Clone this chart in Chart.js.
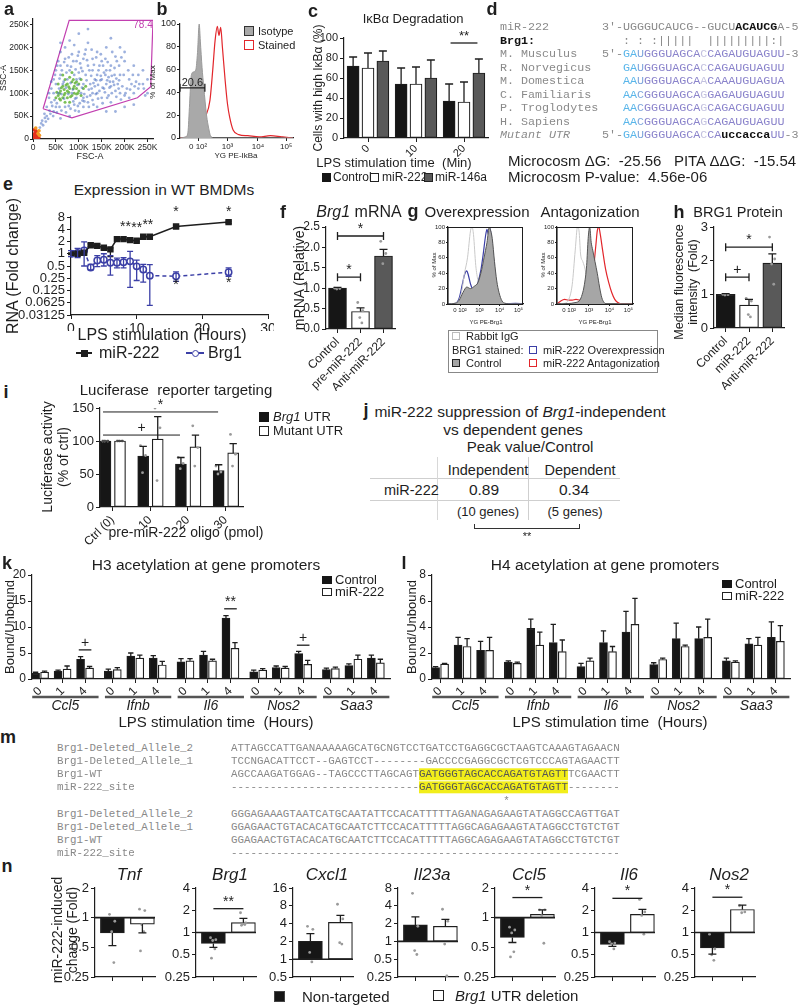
<!DOCTYPE html>
<html>
<head>
<meta charset="utf-8">
<title>Figure</title>
<script src="https://cdn.jsdelivr.net/npm/chart.js@4.4.1/dist/chart.umd.min.js"></script>
<style>
  body { margin: 0; background: #fff; }
  #fig { position: relative; width: 800px; height: 1005px; overflow: hidden; font-family: "Liberation Sans", Arial, sans-serif; color: #1e1e1e; }
  #fig canvas { position: absolute; }
  .t { position: absolute; white-space: nowrap; line-height: 1.15; }
  .b { position: absolute; box-sizing: border-box; }
  .mono { font-family: "Liberation Mono", "Courier New", monospace; white-space: pre; }
  .hl { background: #f2ee1a; color: #555; }
</style>
</head>
<body>
<div id="fig"></div>
<script>
// ---------------- data ----------------
// a: FSC-A / SSC-A dot plot, values in K
const aBlue = [[15,25],[20,40],[25,55],[30,50],[30,70],[35,90],[35,100],[40,80],[40,110],[45,60],[45,130],[50,70],[50,120],[50,150],[55,100],[55,170],[60,45],[60,160],[60,190],[60,210],[65,120],[70,70],[70,175],[70,200],[75,160],[80,50],[80,215],[85,100],[85,185],[90,75],[90,140],[90,205],[95,90],[95,170],[100,60],[100,190],[100,230],[105,100],[105,155],[110,70],[110,120],[110,175],[115,140],[115,195],[120,80],[120,160],[120,210],[120,240],[125,120],[130,85],[130,100],[130,150],[130,175],[135,115],[140,70],[140,140],[140,190],[145,105],[150,90],[150,130],[150,170],[155,145],[160,60],[160,120],[160,200],[165,135],[170,80],[170,115],[170,160],[170,220],[175,125],[180,60],[180,105],[180,180],[185,120],[190,100],[190,140],[190,200],[195,115],[200,70],[200,95],[200,170],[200,190],[205,110],[210,90],[210,130],[215,120],[220,75],[220,100],[220,160],[225,125],[230,110],[230,140],[240,120],[240,150],[245,95],[250,100],[250,130],[75,130],[80,150],[95,130],[100,145],[110,90],[125,95],[135,130],[145,160],[155,110],[165,95],[60,140],[45,100],[40,125],[140,100],[160,150],
  [42,72],[47,85],[52,78],[57,110],[62,98],[67,125],[72,112],[77,98],[82,122],[87,108],[92,88],[97,118],[102,132],[107,112],[112,98],[117,128],[122,108],[127,138],[132,122],[137,98],[142,118],[147,128],[152,112],[157,102],[162,128],[167,112],[172,138],[177,118],[182,132],[187,110],[48,140],[53,160],[58,132],[63,150],[68,168],[73,145],[78,178],[83,158],[88,170],[93,152],[98,182],[103,165],[108,148],[113,185],[118,172],[123,150],[128,195],[133,162],[138,178],[143,150],[148,185],[153,160],[158,175],[163,168],[168,150],[173,190],[178,155],[183,170],[188,160],[193,178],[62,62],[72,58],[82,66],[92,62],[102,78],[112,82],[122,70],[132,75],[142,88],[152,78],[162,90],[172,100],[182,92],[192,86],[202,100],[212,108],[222,115],[232,120],[242,110],[36,62],[28,38],[22,30],[33,44],[38,55],[26,46],[18,34],[44,50],[52,58],[58,70],[68,88],[78,72],[88,82],[98,72],[108,84],[118,92],[128,110],[138,128],[148,138],[158,140],[168,125],[178,140],[188,128],[198,140],[208,150],[218,140]];
const aGreen = [[50,90],[55,95],[55,120],[60,85],[60,105],[65,90],[65,115],[70,100],[70,130],[75,90],[75,105],[75,120],[80,80],[80,110],[80,135],[85,95],[85,125],[90,100],[90,115],[95,110],[95,125],[100,105],[100,120],[105,95],[110,110],[65,140],[85,145],[105,130],[70,80],[115,115],[58,100],[62,112],[68,96],[72,118],[78,102],[82,92],[88,110],[92,122],[98,100],[68,108],[78,114],[88,130],[58,88],[52,102],[95,98]];
const aOrange = [[11,12],[14,8],[6,24],[13,18]];
const aRed = [[3,3],[5,8],[8,5],[6,14],[10,10],[4,20],[12,4],[7,2],[9,16],[2,10]];
const aGate = [[22,66],[79,259],[262,259],[257,114],[228,90],[85,46],[22,66]];
const aTicks = [0, 50, 100, 150, 200, 250];
const aTickLabels = ['0', '50K', '100K', '150K', '200K', '250K'];

// b: IkBa histogram (channel 0-100, % of max)
const flowTicks = [16, 42, 69, 94];
const flowLabels = ['0 10\u00b2', '10\u00b3', '10\u2074', '10\u2075'];
const bIsoX = [0,5,7,8.5,10,12,14,15.5,17,18,19.5,21,23.5,25.5,27,30,100];
const bIso  = [0,1,5,30,55,58,60,75,100,85,62,45,20,8,2,0,0];
const bStainX = [0,7,9,11,13,15,17,20,23,26.5,29,31,33,34.5,36,37.5,40,42,44,47,52,60,70,80,90,100];
const bStain  = [0,1,8,28,35,30,20,16,20,33,60,85,98,90,97,80,50,30,18,7,3,2,1,2,1,0];

// c: IkBa degradation
const cCats = ['0', '10', '20'];
const cControl = [72, 54, 37];
const cControlErr = [81, 70, 54];
const cMir222 = [70, 54, 36];
const cMir222Err = [85, 71, 56];
const cMir146 = [77, 60, 65];
const cMir146Err = [87, 78, 79];

// d: alignment
const dNames = ['M. Musculus', 'R. Norvegicus', 'M. Domestica', 'C. Familiaris', 'P. Troglodytes', 'H. Sapiens'];
const dSeqs = ['GAUGGGUAGCACCAGAUGUAGUU', 'GAUGGGUAGCACCAGAUGUAGUU', 'AAUGGGUAGCAACAAAUGUAGUA', 'AACGGGUAGCAGGAGAUGUAGUU', 'AACGGGUAGCAGCAGACGUAGUU', 'AACGGGUAGCAGCAGAUGUAGUU'];
const dMutant = 'GAUGGGUAGCACCAuccaccaUU';

// e: expression time course
const eHours = [0, 1, 2, 3, 4, 5, 6, 7, 8, 9, 10, 11, 12, 16, 24];
const eMir = [1.0, 1.0, 1.06, 1.62, 1.56, 1.41, 1.28, 2.29, 2.29, 2.16, 2.08, 2.62, 2.62, 4.66, 5.99];
const eMirLo = [0.95, 0.95, 1.0, 1.5, 1.45, 1.3, 0.85, 2.15, 2.15, 2.05, 1.95, 2.5, 2.5, 4.4, 5.6];
const eMirHi = [1.05, 1.05, 1.12, 1.75, 1.68, 1.5, 1.4, 2.45, 2.45, 2.3, 2.2, 2.75, 2.75, 4.9, 6.3];
const eBrg = [1.0, 1.05, 1.2, 0.46, 0.68, 0.71, 0.6, 0.6, 0.62, 0.65, 0.49, 0.41, 0.29, 0.28, 0.35];
const eBrgLo = [0.85, 0.8, 0.5, 0.4, 0.48, 0.5, 0.3, 0.45, 0.45, 0.15, 0.22, 0.2, 0.054, 0.21, 0.28];
const eBrgHi = [1.2, 1.35, 1.95, 0.55, 0.9, 1.0, 0.9, 0.78, 0.8, 1.15, 0.7, 0.55, 0.54, 0.36, 0.45];
const eTicks = [0.03125, 0.0625, 0.125, 0.25, 0.5, 1, 2, 4, 8];

// f: Brg1 mRNA
const fCats = ['Control', 'pre-miR-222', 'Anti-miR-222'];
const fVals = [1.0, 0.43, 1.79];
const fErr = [1.02, 0.52, 1.95];
const fDots = [[1.0, 0.99, 0.98], [0.65, 0.45, 0.28, 0.15], [2.15, 1.85, 1.6]];

// g: BRG1 flow histograms
const gOvIgGX = [0,12,18,22,26,30,32,34,37,40,44,50,55,100];
const gOvIgG  = [0,2,15,40,60,95,100,90,50,30,15,3,0,0];
const gOvCtrlX = [0,10,15,20,25,30,35,40,45,48,52,55,57,59,62,65,68,72,76,85,100];
const gOvCtrl  = [0,1,5,15,22,20,23,28,45,60,80,100,95,85,55,30,15,4,1,0,0];
const gOvMirX = [0,10,15,19,22,25,27,30,34,37,40,44,47,50,52,54,56,58,61,64,67,70,75,90,100];
const gOvMir  = [0,1,8,25,38,43,38,26,18,20,28,45,65,88,97,90,98,85,55,25,8,2,0,1,0];
const gAnIgGX = [0,10,15,20,24,27,29,31,34,37,40,43,47,52,100];
const gAnIgG  = [0,1,5,25,70,100,95,65,55,45,25,10,3,0,0];
const gAnCtrlX = [0,25,30,33,36,39,41,43,45,47,50,53,56,59,62,66,100];
const gAnCtrl  = [0,2,5,12,25,50,85,100,80,70,55,40,22,8,2,0,0];
const gAnMirX = [0,5,10,15,20,25,30,35,38,42,45,48,51,53,55,57,60,64,68,72,76,80,85,100];
const gAnMir  = [0,4,6,5,5,6,5,8,12,15,25,45,75,95,100,90,70,45,28,15,6,2,0,0];

// h: BRG1 protein
const hCats = ['Control', 'miR-222', 'Anti-miR-222'];
const hVals = [1.0, 0.68, 1.93];
const hErr = [1.02, 0.85, 2.2];
const hDots = [[1.0, 0.99, 0.98], [0.88, 0.8, 0.4, 0.33], [2.7, 2.05, 1.9, 1.3]];

// i: luciferase
const iCats = ['Ctrl (0)', '10', '20', '30'];
const iUtr = [100, 77, 65, 55];
const iUtrErr = [100, 92, 75, 64];
const iMut = [100, 103, 91, 82];
const iMutErr = [100, 137, 109, 96];
const iUtrDots = [[100, 100, 100], [93, 78, 52], [75, 66, 58], [62, 53, 50]];
const iMutDots = [[100, 100, 100], [150, 120, 40], [123, 90, 62], [110, 80, 62]];

// k / l: acetylation ChIP
const kGenes = ['Ccl5', 'Ifnb', 'Il6', 'Nos2', 'Saa3'];
const kTimes = ['0', '1', '4'];
const kControl = [1.1, 1.5, 3.8, 1.5, 4.4, 4.0, 3.3, 4.6, 11.7, 1.4, 2.2, 4.9, 1.8, 2.6, 4.0];
const kControlErr = [1.3, 1.7, 4.3, 1.9, 5.0, 4.5, 3.9, 5.3, 12.2, 1.7, 2.5, 5.3, 2.1, 2.9, 4.6];
const kMir = [1.3, 1.9, 2.1, 1.8, 4.0, 2.7, 3.5, 3.5, 5.9, 1.7, 2.1, 2.8, 2.0, 3.8, 3.1];
const kMirErr = [1.5, 2.5, 2.4, 2.2, 4.6, 3.4, 3.9, 3.8, 7.0, 2.0, 2.4, 3.6, 2.3, 4.6, 3.8];
const lControl = [0.87, 2.6, 2.2, 1.3, 3.9, 2.8, 0.95, 2.8, 3.6, 1.1, 3.1, 3.1, 1.4, 2.7, 3.2];
const lControlErr = [0.95, 3.2, 2.9, 1.4, 4.6, 4.2, 1.2, 3.7, 5.2, 1.25, 4.3, 4.0, 1.6, 3.1, 4.4];
const lMir = [1.15, 2.5, 2.2, 1.2, 2.6, 2.1, 1.4, 2.1, 4.2, 1.5, 2.5, 3.2, 1.3, 2.6, 2.9];
const lMirErr = [1.2, 3.1, 3.2, 1.3, 3.6, 3.0, 1.6, 2.5, 6.2, 1.6, 2.6, 4.6, 1.4, 3.2, 4.1];

// m: sequences
const mLabels = ['Brg1-Deleted_Allele_2', 'Brg1-Deleted_Allele_1', 'Brg1-WT', 'miR-222_site'];
const mBlock1 = [
  'ATTAGCCATTGANAAAAAGCATGCNGTCCTGATCCTGAGGCGCTAAGTCAAAGTAGAACN',
  'TCCNGACATTCCT--GAGTCCT--------GACCCCGAGGCGCTCGTCCCAGTAGAACTT',
  'AGCCAAGATGGAG--TAGCCCTTAGCAGTGATGGGTAGCACCAGATGTAGTTTCGAACTT',
  '-----------------------------GATGGGTAGCACCAGATGTAGTT--------'
];
const mBlock2 = [
  'GGGAGAAAGTAATCATGCAATATTCCACATTTTTAGANAGAGAAGTATAGGCCAGTTGAT',
  'GGAGAACTGTACACATGCAATCTTCCACATTTTTAGGCAGAGAAGTATAGGCCTGTCTGT',
  'GGAGAACTGTACACATGCAATCTTCCACATTTTTAGGCAGAGAAGTATAGGCCTGTCTGT',
  '------------------------------------------------------------'
];

// n: miR-222-induced change
const nGenes = ['Tnf', 'Brg1', 'Cxcl1', 'Il23a', 'Ccl5', 'Il6', 'Nos2'];
const nNonTargeted = [0.70, 0.71, 2.0, 1.9, 0.63, 0.69, 0.62];
const nNonTargetedErr = [0.52, 0.63, 2.7, 2.6, 0.56, 0.65, 0.51];
const nDeletion = [0.86, 1.36, 4.2, 1.8, 1.08, 1.76, 2.05];
const nDeletionErr = [0.70, 1.55, 5.5, 2.35, 1.2, 2.05, 2.35];
const nNonTargetedDots = [[1.08, 0.92, 0.72, 0.35], [0.85, 0.8, 0.78, 0.6, 0.45], [3.6, 3.2, 1.3, 0.9], [6.5, 1.8, 0.7, 0.6], [0.8, 0.75, 0.7, 0.45, 0.4], [0.75, 0.72, 0.7, 0.6], [0.95, 0.6, 0.5, 0.42]];
const nDeletionDots = [[1.22, 1.18, 0.85, 0.72, 0.46], [1.85, 1.35, 1.3, 1.28, 1.25], [8.5, 4.8, 1.9, 1.8], [3.5, 2.2, 0.9, 0.26], [1.2, 1.2, 1.05, 0.55], [2.8, 1.9, 1.7, 0.95], [2.3, 1.9, 1.85]];
const nTicks = [[0.25, 0.5, 1, 2], [0.25, 0.5, 1, 2, 4], [0.5, 1, 2, 4, 8, 16], [0.25, 0.5, 1, 2, 4, 8], [0.25, 0.5, 1, 2], [0.25, 0.5, 1, 2, 4], [0.25, 0.5, 1, 2, 4]];
const nSig = ['', '**', '', '', '*', '*', '*'];
const nSigAt = [0, 2.1, 0, 0, 1.6, 2.9, 3.0];

// ---------------- helpers ----------------
const fig = document.getElementById('fig');
const INK = '#1e1e1e', BLACK = '#161616', GREY = '#595959', BLUE = '#3b3fa6', RED = '#e2262b', MAG = '#c23fb0';
const FONT = '"Liberation Sans", Arial, sans-serif';
const JIT = [-0.12, 0.1, -0.03, 0.06, -0.08];   // fixed horizontal spread for replicate dots
Chart.defaults.font.family = FONT;
Chart.defaults.color = INK;

function T(h, x, y, a, s, st) {
  const d = document.createElement('div');
  d.className = 't';
  d.innerHTML = h;
  const tx = a === 'l' ? '0' : a === 'r' ? '-100%' : '-50%';
  d.style.cssText = 'left:' + x + 'px;top:' + y + 'px;font-size:' + s + 'px;transform:translate(' + tx + ',-50%)' + (a === 'v' ? ' rotate(-90deg)' : '') + ';' + (st || '');
  fig.appendChild(d);
}
function B(x, y, w, h, st) {
  const d = document.createElement('div');
  d.className = 'b';
  d.style.cssText = 'left:' + x + 'px;top:' + y + 'px;width:' + w + 'px;height:' + h + 'px;' + (st || '');
  fig.appendChild(d);
}
function xy(xs, ys) { return xs.map((x, i) => ({x: x, y: ys[i]})); }

function axis(min, max, fs, o) {
  o = o || {};
  const s = {
    type: o.log ? 'logarithmic' : 'linear', min: min, max: max, bounds: 'data', offset: false,
    grid: {display: true, drawOnChartArea: false, drawTicks: true, tickLength: o.tl == null ? 4 : o.tl, color: INK, lineWidth: 1, offset: false},
    border: {display: true, color: INK, width: o.bw || 1.2},
    ticks: {color: INK, font: {size: fs}, padding: o.pad == null ? 2 : o.pad, autoSkip: false, maxRotation: o.rot || 0, minRotation: o.rot || 0}
  };
  if (o.step) s.ticks.stepSize = o.step;
  if (o.at) {
    s.afterBuildTicks = sc => { sc.ticks = o.at.map(v => ({value: v})); };
    s.ticks.callback = (v, i) => (o.labels ? o.labels[i] : String(v));
  }
  if (o.fmt) s.ticks.callback = o.fmt;
  return s;
}

// box = plot area in page px [x0, y0, x1, y1]; m = [left, top, right, bottom] margins
function place(box, m, cfg) {
  const cv = document.createElement('canvas');
  const w = Math.round(box[2] - box[0] + m[0] + m[2]), h = Math.round(box[3] - box[1] + m[1] + m[3]);
  cv.width = w; cv.height = h;
  cv.style.left = (box[0] - m[0]) + 'px';
  cv.style.top = (box[1] - m[1]) + 'px';
  cv.style.width = w + 'px'; cv.style.height = h + 'px';
  fig.appendChild(cv);
  const o = cfg.options;
  o.responsive = false; o.animation = false; o.maintainAspectRatio = false;
  o.layout = {padding: {left: 0, top: m[1], right: m[2], bottom: 0}};
  o.plugins = Object.assign({legend: {display: false}, tooltip: {enabled: false}}, o.plugins || {});
  const zero = s => { s.paddingLeft = 0; s.paddingRight = 0; s.paddingTop = 0; s.paddingBottom = 0; };
  o.scales.x.afterFit = s => { s.height = m[3]; zero(s); };
  o.scales.y.afterFit = s => { s.width = m[0]; zero(s); };
  return new Chart(cv, cfg);
}

function bars(vals, errs, pos, off, fill, w, base) {
  return {
    data: vals.map((v, i) => ({x: pos[i] + off, y: base == null ? v : [base, v]})),
    err: errs, backgroundColor: fill, borderColor: INK, borderWidth: 1.2,
    barThickness: w, grouped: false, borderSkipped: false, capW: Math.min(4, w / 3)
  };
}
// replicate dots: groups[i] is the list of values sitting on bar i
function dots(groups, pos, off, spread, col) {
  const data = [];
  groups.forEach((g, i) => g.forEach((v, j) => data.push({x: pos[i] + off + JIT[j % JIT.length] * spread, y: v})));
  return {type: 'scatter', data: data, backgroundColor: col || '#9a9a9a', borderWidth: 0, pointRadius: 1.4, order: -1};
}

// error bars, significance marks, gene group labels
function deco(o) {
  o = o || {};
  return {
    id: 'deco',
    afterDatasetsDraw(chart) {
      const ctx = chart.ctx, xs = chart.scales.x, ys = chart.scales.y, ca = chart.chartArea;
      ctx.save();
      if (o.frame) {
        ctx.strokeStyle = INK; ctx.lineWidth = 1;
        ctx.strokeRect(ca.left, ca.top + 0.5, ca.right - ca.left - 0.5, ca.bottom - ca.top);
      }
      chart.data.datasets.forEach((ds, di) => {
        if (!ds.err && !ds.errHi) return;
        const meta = chart.getDatasetMeta(di);
        ctx.strokeStyle = ds.errColor || INK; ctx.lineWidth = 1.3;
        meta.data.forEach((el, i) => {
          const d = ds.data[i];
          const v = Array.isArray(d.y) ? d.y[1] : d.y;
          const a = ys.getPixelForValue(ds.err ? v : ds.errLo[i]);
          const b = ys.getPixelForValue(ds.err ? ds.err[i] : ds.errHi[i]);
          const c = ds.capW || 3.5, x = el.x;
          ctx.beginPath();
          ctx.moveTo(x, a); ctx.lineTo(x, b);
          ctx.moveTo(x - c, b); ctx.lineTo(x + c, b);
          if (!ds.err) { ctx.moveTo(x - c, a); ctx.lineTo(x + c, a); }
          ctx.stroke();
        });
      });
      (o.marks || []).forEach(mk => {
        ctx.strokeStyle = INK; ctx.fillStyle = INK; ctx.lineWidth = mk.lw || 1.3;
        ctx.font = (mk.fs || 14) + 'px ' + FONT;
        ctx.textAlign = 'center';
        if (mk.k === 'br') {
          const x1 = xs.getPixelForValue(mk.x1), x2 = xs.getPixelForValue(mk.x2), y = ys.getPixelForValue(mk.y);
          ctx.beginPath(); ctx.moveTo(x1, y); ctx.lineTo(x2, y);
          if (mk.ends) [x1, x2].forEach(x => { ctx.moveTo(x, y - 4); ctx.lineTo(x, y + 4); });
          ctx.stroke();
          if (mk.t) { ctx.textBaseline = 'alphabetic'; ctx.fillText(mk.t, (x1 + x2) / 2, y - (mk.dy || 3)); }
        } else if (mk.k === 'tx') {
          ctx.textBaseline = 'middle';
          ctx.fillText(mk.t, xs.getPixelForValue(mk.x), ys.getPixelForValue(mk.y));
        } else if (mk.k === 'hl') {
          const y = ys.getPixelForValue(mk.y);
          ctx.beginPath(); ctx.moveTo(ca.left, y); ctx.lineTo(ca.right, y); ctx.stroke();
        }
      });
      (o.groups || []).forEach(g => {
        const x1 = xs.getPixelForValue(g.a), x2 = xs.getPixelForValue(g.b), y = ca.bottom + o.gy;
        ctx.strokeStyle = '#555'; ctx.lineWidth = 2.5;
        ctx.beginPath(); ctx.moveTo(x1, y); ctx.lineTo(x2, y); ctx.stroke();
        ctx.fillStyle = INK; ctx.font = 'italic 14px ' + FONT;
        ctx.textAlign = 'center'; ctx.textBaseline = 'middle';
        ctx.fillText(g.t, (x1 + x2) / 2, y + 9);
      });
      ctx.restore();
    }
  };
}

function pts(arr, col, r) {
  return {data: arr.map(p => ({x: p[0], y: p[1]})), backgroundColor: col, borderWidth: 0, pointRadius: r};
}

// ---------------- a ----------------
place([33, 18.5, 152.5, 138], [32, 8, 6, 14], {
  type: 'scatter',
  data: {datasets: [
    pts(aBlue, 'rgba(60,100,190,0.5)', 1.4),
    pts(aGreen, 'rgba(110,185,70,0.9)', 1.5),
    pts(aOrange, '#f39a22', 1.8),
    pts(aRed, '#e5301d', 2),
    {data: aGate.map(p => ({x: p[0], y: p[1]})), showLine: true, borderColor: MAG, borderWidth: 1.2, pointRadius: 0}
  ]},
  options: {scales: {x: axis(0, 262, 8.5, {at: aTicks, labels: aTickLabels, tl: 3, pad: 1}), y: axis(0, 262, 8.5, {at: aTicks, labels: aTickLabels, tl: 3, pad: 1})}}
});

// ---------------- b ----------------
place([180, 24, 293, 138], [22, 8, 4, 14], {
  type: 'line',
  data: {datasets: [
    {data: xy(bIsoX, bIso), fill: 'origin', backgroundColor: '#a9a9a9', borderColor: '#9a9a9a', borderWidth: 1, pointRadius: 0, cubicInterpolationMode: 'monotone'},
    {data: xy(bStainX, bStain), fill: false, borderColor: RED, borderWidth: 1.2, pointRadius: 0, cubicInterpolationMode: 'monotone'}
  ]},
  options: {scales: {x: axis(0, 100, 8, {at: flowTicks, labels: flowLabels, tl: 3, pad: 1}), y: axis(0, 100, 9, {step: 20, tl: 3, pad: 1})}},
  plugins: [deco({marks: [{k: 'br', x1: 0, x2: 22, y: 44, t: '20.6', fs: 11, ends: true, dy: 2}]})]
});

// ---------------- c ----------------
const cPos = cCats.map((c, i) => i);
place([344, 38, 488, 138], [26, 14, 4, 24], {
  type: 'bar',
  data: {datasets: [
    bars(cControl, cControlErr, cPos, -0.31, BLACK, 12),
    bars(cMir222, cMir222Err, cPos, 0, '#fff', 12),
    bars(cMir146, cMir146Err, cPos, 0.31, GREY, 12)
  ]},
  options: {scales: {x: axis(-0.5, 2.5, 11, {at: cPos, labels: cCats, rot: 45, pad: 0}), y: axis(0, 100, 11, {step: 20})}},
  plugins: [deco({marks: [{k: 'br', x1: 1.72, x2: 2.28, y: 95, t: '**', fs: 13}]})]
});

// ---------------- e ----------------
place([71, 217, 268, 315], [62, 14, 6, 16], {
  type: 'line',
  data: {datasets: [
    {data: xy(eHours, eMir), borderColor: INK, backgroundColor: INK, borderWidth: 1.5, pointStyle: 'rect', pointRadius: 3.5, errLo: eMirLo, errHi: eMirHi, capW: 3},
    {data: xy(eHours, eBrg), borderColor: BLUE, backgroundColor: '#fff', borderWidth: 1.5, borderDash: [4, 3], pointStyle: 'circle', pointRadius: 3.2, pointBorderColor: BLUE, pointBackgroundColor: '#fff', errLo: eBrgLo, errHi: eBrgHi, errColor: BLUE, capW: 3}
  ]},
  options: {scales: {x: axis(0, 30, 14, {step: 10}), y: axis(0.03125, 8, 13, {log: true, at: eTicks})}},
  plugins: [deco({marks: [
    {k: 'tx', x: 8.3, y: 4.6, t: '**'}, {k: 'tx', x: 10, y: 4.2, t: '**'}, {k: 'tx', x: 11.7, y: 5.1, t: '**'},
    {k: 'tx', x: 16, y: 10.3, t: '*'}, {k: 'tx', x: 24, y: 10.3, t: '*'},
    {k: 'tx', x: 16, y: 0.165, t: '*'}, {k: 'tx', x: 24, y: 0.19, t: '*'}
  ]})]
});

// ---------------- f ----------------
const fPos = fCats.map((c, i) => i);
place([326, 227, 395, 329], [48, 10, 4, 62], {
  type: 'bar',
  data: {datasets: [
    dots(fDots, fPos, 0, 1),
    bars([fVals[0]], [fErr[0]], [0], 0, BLACK, 18),
    bars([fVals[1]], [fErr[1]], [1], 0, '#fff', 18),
    bars([fVals[2]], [fErr[2]], [2], 0, GREY, 18)
  ]},
  options: {scales: {x: axis(-0.5, 2.5, 12, {at: fPos, labels: fCats, rot: 45}), y: axis(0, 2.5, 12, {step: 0.5, fmt: v => v.toFixed(1)})}},
  plugins: [deco({marks: [{k: 'br', x1: 0, x2: 2, y: 2.28, t: '*', ends: true}, {k: 'br', x1: 0, x2: 1, y: 1.27, t: '*', ends: true}]})]
});

// ---------------- g ----------------
function flow(box, sets) {
  place(box, [16, 4, 2, 10], {
    type: 'line',
    data: {datasets: sets},
    options: {scales: {x: axis(0, 100, 6, {at: flowTicks, labels: flowLabels, tl: 2, pad: 1}), y: axis(0, 100, 6, {step: 20, tl: 2, pad: 1})}},
    plugins: [deco({frame: true})]
  });
}
const lineSet = (xs, ys, col, w) => ({data: xy(xs, ys), fill: false, borderColor: col, borderWidth: w, pointRadius: 0, cubicInterpolationMode: 'monotone'});
flow([448, 227, 523, 304], [
  {data: xy(gOvCtrlX, gOvCtrl), fill: 'origin', backgroundColor: '#a6a6a6', borderColor: '#555', borderWidth: 1, pointRadius: 0, cubicInterpolationMode: 'monotone'},
  lineSet(gOvIgGX, gOvIgG, '#c9c9c9', 1),
  lineSet(gOvMirX, gOvMir, BLUE, 1.2)
]);
flow([557, 227, 633, 304], [
  {data: xy(gAnCtrlX, gAnCtrl), fill: 'origin', backgroundColor: '#a6a6a6', borderColor: '#555', borderWidth: 1, pointRadius: 0, cubicInterpolationMode: 'monotone'},
  lineSet(gAnIgGX, gAnIgG, '#c9c9c9', 1),
  lineSet(gAnMirX, gAnMir, RED, 1.2)
]);

// ---------------- h ----------------
const hPos = hCats.map((c, i) => i);
place([714, 227, 784, 328], [48, 10, 4, 62], {
  type: 'bar',
  data: {datasets: [
    dots(hDots, hPos, 0, 1),
    bars([hVals[0]], [hErr[0]], [0], 0, BLACK, 19),
    bars([hVals[1]], [hErr[1]], [1], 0, '#fff', 19),
    bars([hVals[2]], [hErr[2]], [2], 0, GREY, 19)
  ]},
  options: {scales: {x: axis(-0.5, 2.5, 12, {at: hPos, labels: hCats, rot: 45}), y: axis(0, 3, 13, {step: 1})}},
  plugins: [deco({marks: [{k: 'br', x1: 0, x2: 2, y: 2.4, t: '*', ends: true}, {k: 'br', x1: 0, x2: 1, y: 1.51, t: '+', ends: true}]})]
});

// ---------------- i ----------------
const iPos = iCats.map((c, i) => i);
place([100, 408, 243, 507], [70, 10, 4, 50], {
  type: 'bar',
  data: {datasets: [
    dots(iUtrDots, iPos, -0.185, 0.6),
    dots(iMutDots, iPos, 0.2, 0.6),
    bars(iUtr, iUtrErr, iPos, -0.185, BLACK, 11),
    bars(iMut, iMutErr, iPos, 0.2, '#fff', 11)
  ]},
  options: {scales: {x: axis(-0.33, 3.46, 12, {at: iPos, labels: iCats, rot: 45}), y: axis(0, 150, 13, {step: 50})}},
  plugins: [deco({marks: [{k: 'br', x1: -0.25, x2: 2.8, y: 144, t: '*', lw: 1}, {k: 'br', x1: -0.25, x2: 1.79, y: 109, t: '+', lw: 1}]})]
});

// ---------------- k / l ----------------
const GROUP = 3.233;
const kPos = kGenes.flatMap((g, gi) => kTimes.map((t, ti) => gi * GROUP + ti));
const kLabels = kGenes.flatMap(() => kTimes);
const kGroups = kGenes.map((g, gi) => ({a: gi * GROUP - 0.35, b: gi * GROUP + 2.6, t: g}));
function chip(box, ctl, ctlErr, mir, mirErr, ymax, step, marks) {
  place(box, [22, 16, 6, 36], {
    type: 'bar',
    data: {datasets: [
      bars(ctl, ctlErr, kPos, -0.2, BLACK, 8),
      bars(mir, mirErr, kPos, 0.2, '#fff', 8)
    ]},
    options: {scales: {x: axis(-0.36, 15.56, 12, {at: kPos, labels: kLabels, rot: 45, pad: 1}), y: axis(0, ymax, 12, {step: step})}},
    plugins: [deco({marks: marks, groups: kGroups, gy: 18})]
  });
}
chip([32, 575, 390, 679], kControl, kControlErr, kMir, kMirErr, 20, 5, [
  {k: 'br', x1: 1.72, x2: 2.28, y: 5.6, t: '+'},
  {k: 'br', x1: 2 * GROUP + 1.72, x2: 2 * GROUP + 2.28, y: 13.5, t: '**'},
  {k: 'br', x1: 3 * GROUP + 1.72, x2: 3 * GROUP + 2.28, y: 6.5, t: '+'}
]);
chip([432, 575, 790, 679], lControl, lControlErr, lMir, lMirErr, 8, 2, []);

// ---------------- n ----------------
const nX0 = [95, 196, 293, 398, 495, 595, 695];
nGenes.forEach((g, i) => {
  const x0 = nX0[i];
  const marks = [{k: 'hl', y: 1, lw: 1.6}];
  if (nSig[i]) marks.push({k: 'br', x1: 0, x2: 1, y: nSigAt[i], t: nSig[i]});
  place([x0, 888, x0 + 62, 977], [32, 8, 2, 8], {
    type: 'bar',
    data: {datasets: [
      dots([nNonTargetedDots[i]], [0], 0, 0.8),
      dots([nDeletionDots[i]], [1], 0, 0.8),
      bars([nNonTargeted[i]], [nNonTargetedErr[i]], [0], 0, BLACK, 24, 1),
      bars([nDeletion[i]], [nDeletionErr[i]], [1], 0, '#fff', 24, 1)
    ]},
    options: {scales: {
      x: axis(-0.58, 1.42, 10, {at: [0, 1], labels: ['', '']}),
      y: axis(nTicks[i][0], nTicks[i][nTicks[i].length - 1], 13, {log: true, at: nTicks[i]})
    }},
    plugins: [deco({marks: marks})]
  });
  T('<i>' + g + '</i>', x0 + 34, 875, 'c', 17);
});

// ---------------- text: panel letters ----------------
[['a', 9, 9], ['b', 162, 9], ['c', 313, 11], ['d', 492, 9], ['e', 8, 184], ['f', 283, 212], ['g', 413, 211], ['h', 679, 212],
 ['i', 6, 392], ['j', 366, 410], ['k', 7, 563], ['l', 404, 563], ['m', 8, 737], ['n', 7, 866]]
  .forEach(p => T(p[0], p[1], p[2], 'c', 18, 'font-weight:bold'));

// a, b labels
T('FSC-A', 90, 156, 'c', 9);
T('SSC-A', 4, 78, 'v', 8.5);
T('78.4', 143, 25, 'c', 10, 'color:' + MAG);
T('YG PE-IkBa', 236, 156, 'c', 8);
T('% of Max', 153, 82, 'v', 8);
B(244, 26, 10, 10, 'background:#a9a9a9;border:1px solid #333');
T('Isotype', 258, 31, 'l', 11);
B(244, 40, 10, 10, 'background:#fff;border:1.2px solid ' + RED);
T('Stained', 258, 45, 'l', 11);

// c labels
T('I\u03baB\u03b1 Degradation', 413, 19, 'c', 13);
T('Cells with high I\u03baB\u03b1 (%)', 319, 88, 'v', 12);
T('LPS stimulation time&nbsp; (Min)', 394, 163, 'c', 13);
B(322, 173, 9, 9, 'background:' + BLACK);
T('Control', 333, 177.5, 'l', 12);
B(370, 173, 9, 9, 'background:#fff;border:1.2px solid #222');
T('miR-222', 382, 177.5, 'l', 12);
B(424, 173, 9, 9, 'background:' + GREY + ';border:1px solid #222');
T('miR-146a', 435, 177.5, 'l', 12);

// d alignment
const dRowY = [27, 40.5, 54, 67.5, 81, 94.5, 108, 121.5, 135];
const DX = 602, CH = 7.02, DS = 11.7;
function colorSeq(s) {
  return s.split('').map((ch, i) => {
    if (ch !== ch.toUpperCase()) return '<b style="color:#111">' + ch + '</b>';
    const col = i < 2 ? '#5ab6ea' : i === 2 ? '#7ea5dc' : i === 11 ? '#c4c2e0' : '#8a83cb';
    return '<span style="color:' + col + '">' + ch + '</span>';
  }).join('');
}
T('<span class="mono" style="color:#8a8a8a">miR-222</span>', 500, dRowY[0], 'l', DS);
T('<span class="mono" style="color:#8a8a8a">3\u2032-UGGGUCAUCG--GUCU<b style="color:#111">ACAUCG</b>A-5\u2032</span>', DX, dRowY[0], 'l', DS);
T('<span class="mono" style="color:#111;font-weight:bold">Brg1:</span>', 500, dRowY[1], 'l', DS);
T('<span class="mono" style="color:#888">   : : :|||||  |||||||||:|</span>', DX, dRowY[1], 'l', DS);
dNames.forEach((nm, i) => {
  T('<span class="mono" style="color:#8a8a8a">' + nm + '</span>', 500, dRowY[i + 2], 'l', DS);
  const seq = colorSeq(dSeqs[i]);
  if (i === 0) T('<span class="mono" style="color:#8a8a8a">5\u2032-' + seq + '-3\u2032</span>', DX, dRowY[i + 2], 'l', DS);
  else T('<span class="mono">' + seq + '</span>', DX + 3 * CH, dRowY[i + 2], 'l', DS);
});
T('<span class="mono" style="color:#8a8a8a;font-style:italic">Mutant UTR</span>', 500, dRowY[8], 'l', DS);
T('<span class="mono" style="color:#8a8a8a">5\u2032-' + colorSeq(dMutant) + '-3\u2032</span>', DX, dRowY[8], 'l', DS);
T('Microcosm \u0394G:&nbsp; -25.56&nbsp;&nbsp; PITA \u0394\u0394G:&nbsp; -15.54', 508, 161, 'l', 15);
T('Microcosm P-value:&nbsp; 4.56e-06', 508, 177, 'l', 15);

// e labels
T('Expression in WT BMDMs', 164, 190, 'c', 15.5);
T('RNA (Fold change)', 13, 266, 'v', 16);
T('LPS stimulation (Hours)', 162, 335, 'c', 16);
B(76, 352, 16, 2, 'background:' + INK);
B(80.5, 349.5, 7, 7, 'background:' + INK);
T('miR-222', 99, 353, 'l', 16);
B(186, 352, 18, 2, 'border-top:2px dashed ' + BLUE);
B(191.5, 349.5, 7, 7, 'border:1.5px solid ' + BLUE + ';border-radius:50%;background:#fff');
T('Brg1', 208, 353, 'l', 16);

// f, g, h labels
T('<i>Brg1</i> mRNA', 359, 212, 'c', 16);
T('mRNA (Relative)', 299, 278, 'v', 14);
T('Overexpression', 477, 212, 'c', 15);
T('Antagonization', 590, 212, 'c', 15);
T('% of Max', 434, 265, 'v', 6);
T('% of Max', 543, 265, 'v', 6);
T('YG PE-Brg1', 486, 322, 'c', 6);
T('YG PE-Brg1', 595, 322, 'c', 6);
B(448, 330, 210, 43, 'border:1px solid #888');
B(452, 332, 8, 8, 'border:1px solid #bbb');
T('Rabbit IgG', 466, 336, 'l', 11);
T('BRG1 stained:', 452, 350, 'l', 11);
B(452, 359, 8, 8, 'background:#a6a6a6;border:1px solid #222');
T('Control', 466, 363, 'l', 11);
B(529, 346, 8, 8, 'border:1.2px solid ' + BLUE);
T('miR-222 Overexpression', 543, 350, 'l', 11);
B(529, 359, 8, 8, 'border:1.2px solid ' + RED);
T('miR-222 Antagonization', 543, 363, 'l', 11);
T('BRG1 Protein', 738, 212, 'c', 14.5);
T('Median fluorescence', 679, 282, 'v', 12.5);
T('intensity&nbsp; (Fold)', 693, 282, 'v', 12.5);

// i labels
T('Luciferase&nbsp; reporter targeting', 176, 390, 'c', 15);
T('Luciferase activity', 47, 457, 'v', 14);
T('(% of ctrl)', 63, 457, 'v', 14);
T('pre-miR-222 oligo (pmol)', 186, 532, 'c', 14);
B(259, 412, 10, 10, 'background:' + BLACK);
T('<i>Brg1</i> UTR', 273, 417, 'l', 13);
B(259, 426, 10, 10, 'background:#fff;border:1.2px solid #222');
T('Mutant UTR', 273, 431, 'l', 13);

// j table
T('miR-222 suppression of <i>Brg1</i>-independent', 520, 412, 'c', 15.5);
T('vs dependent genes', 513, 430, 'c', 15.5);
T('Peak value/Control', 530, 447, 'c', 15);
B(370, 478, 250, 1, 'background:#cfcfcf');
B(370, 500, 250, 1, 'background:#cfcfcf');
B(437, 457, 1, 63, 'background:#d8d8d8');
B(528, 457, 1, 63, 'background:#cfcfcf');
T('Independent', 488, 470, 'c', 14.5);
T('Dependent', 580, 470, 'c', 14.5);
T('miR-222', 384, 490, 'l', 14.5);
T('0.89', 484, 490, 'c', 15.5);
T('0.34', 574, 490, 'c', 15.5);
T('(10 genes)', 488, 512, 'c', 13);
T('(5 genes)', 575, 512, 'c', 13);
B(474, 524, 106, 5, 'border:1.2px solid #333;border-top:none');
T('**', 527, 536, 'c', 11);

// k, l labels
T('H3 acetylation at gene promoters', 206, 565, 'c', 15.5);
T('H4 acetylation at gene promoters', 605, 565, 'c', 15.5);
T('Bound/Unbound', 10, 627, 'v', 13);
T('Bound/Unbound', 412, 627, 'v', 13);
T('LPS stimulation time&nbsp; (Hours)', 216, 722, 'c', 15);
T('LPS stimulation time&nbsp; (Hours)', 610, 722, 'c', 15);
[[322, 576, 'Control'], [722, 580, 'Control']].forEach(p => { B(p[0], p[1], 10, 8, 'background:' + BLACK); T(p[2], p[0] + 13, p[1] + 4, 'l', 13); });
[[322, 588, 'miR-222'], [722, 592, 'miR-222']].forEach(p => { B(p[0], p[1], 10, 8, 'background:#fff;border:1.2px solid #222'); T(p[2], p[0] + 13, p[1] + 4, 'l', 13); });

// m sequences
const MS = 10.8, MX = 231, MC = MS * 0.6;
function mark(s) { return s.slice(0, 29) + '<span class="hl">' + s.slice(29, 52) + '</span>' + s.slice(52); }
[[mBlock1, 748], [mBlock2, 814]].forEach(blk => {
  blk[0].forEach((seq, r) => {
    const y = blk[1] + r * 13;
    T('<span class="mono" style="color:#888">' + mLabels[r] + '</span>', 57, y, 'l', MS);
    const body = blk[0] === mBlock1 && r >= 2 ? mark(seq) : seq;
    T('<span class="mono" style="color:#888">' + body + '</span>', MX, y, 'l', MS);
  });
});
T('<span class="mono" style="color:#888">*</span>', MX + 42 * MC, 801, 'l', MS);

// n labels
T('miR-222-induced', 57, 930, 'v', 14);
T('change (Fold)', 72, 930, 'v', 14);
B(274, 991, 11, 11, 'background:' + BLACK + ';border:1px solid #444');
T('Non-targeted', 302, 997, 'l', 15);
B(433, 990, 11, 11, 'background:#fff;border:1.2px solid #222');
T('<i>Brg1</i> UTR deletion', 455, 996, 'l', 15);
</script>
</body>
</html>
